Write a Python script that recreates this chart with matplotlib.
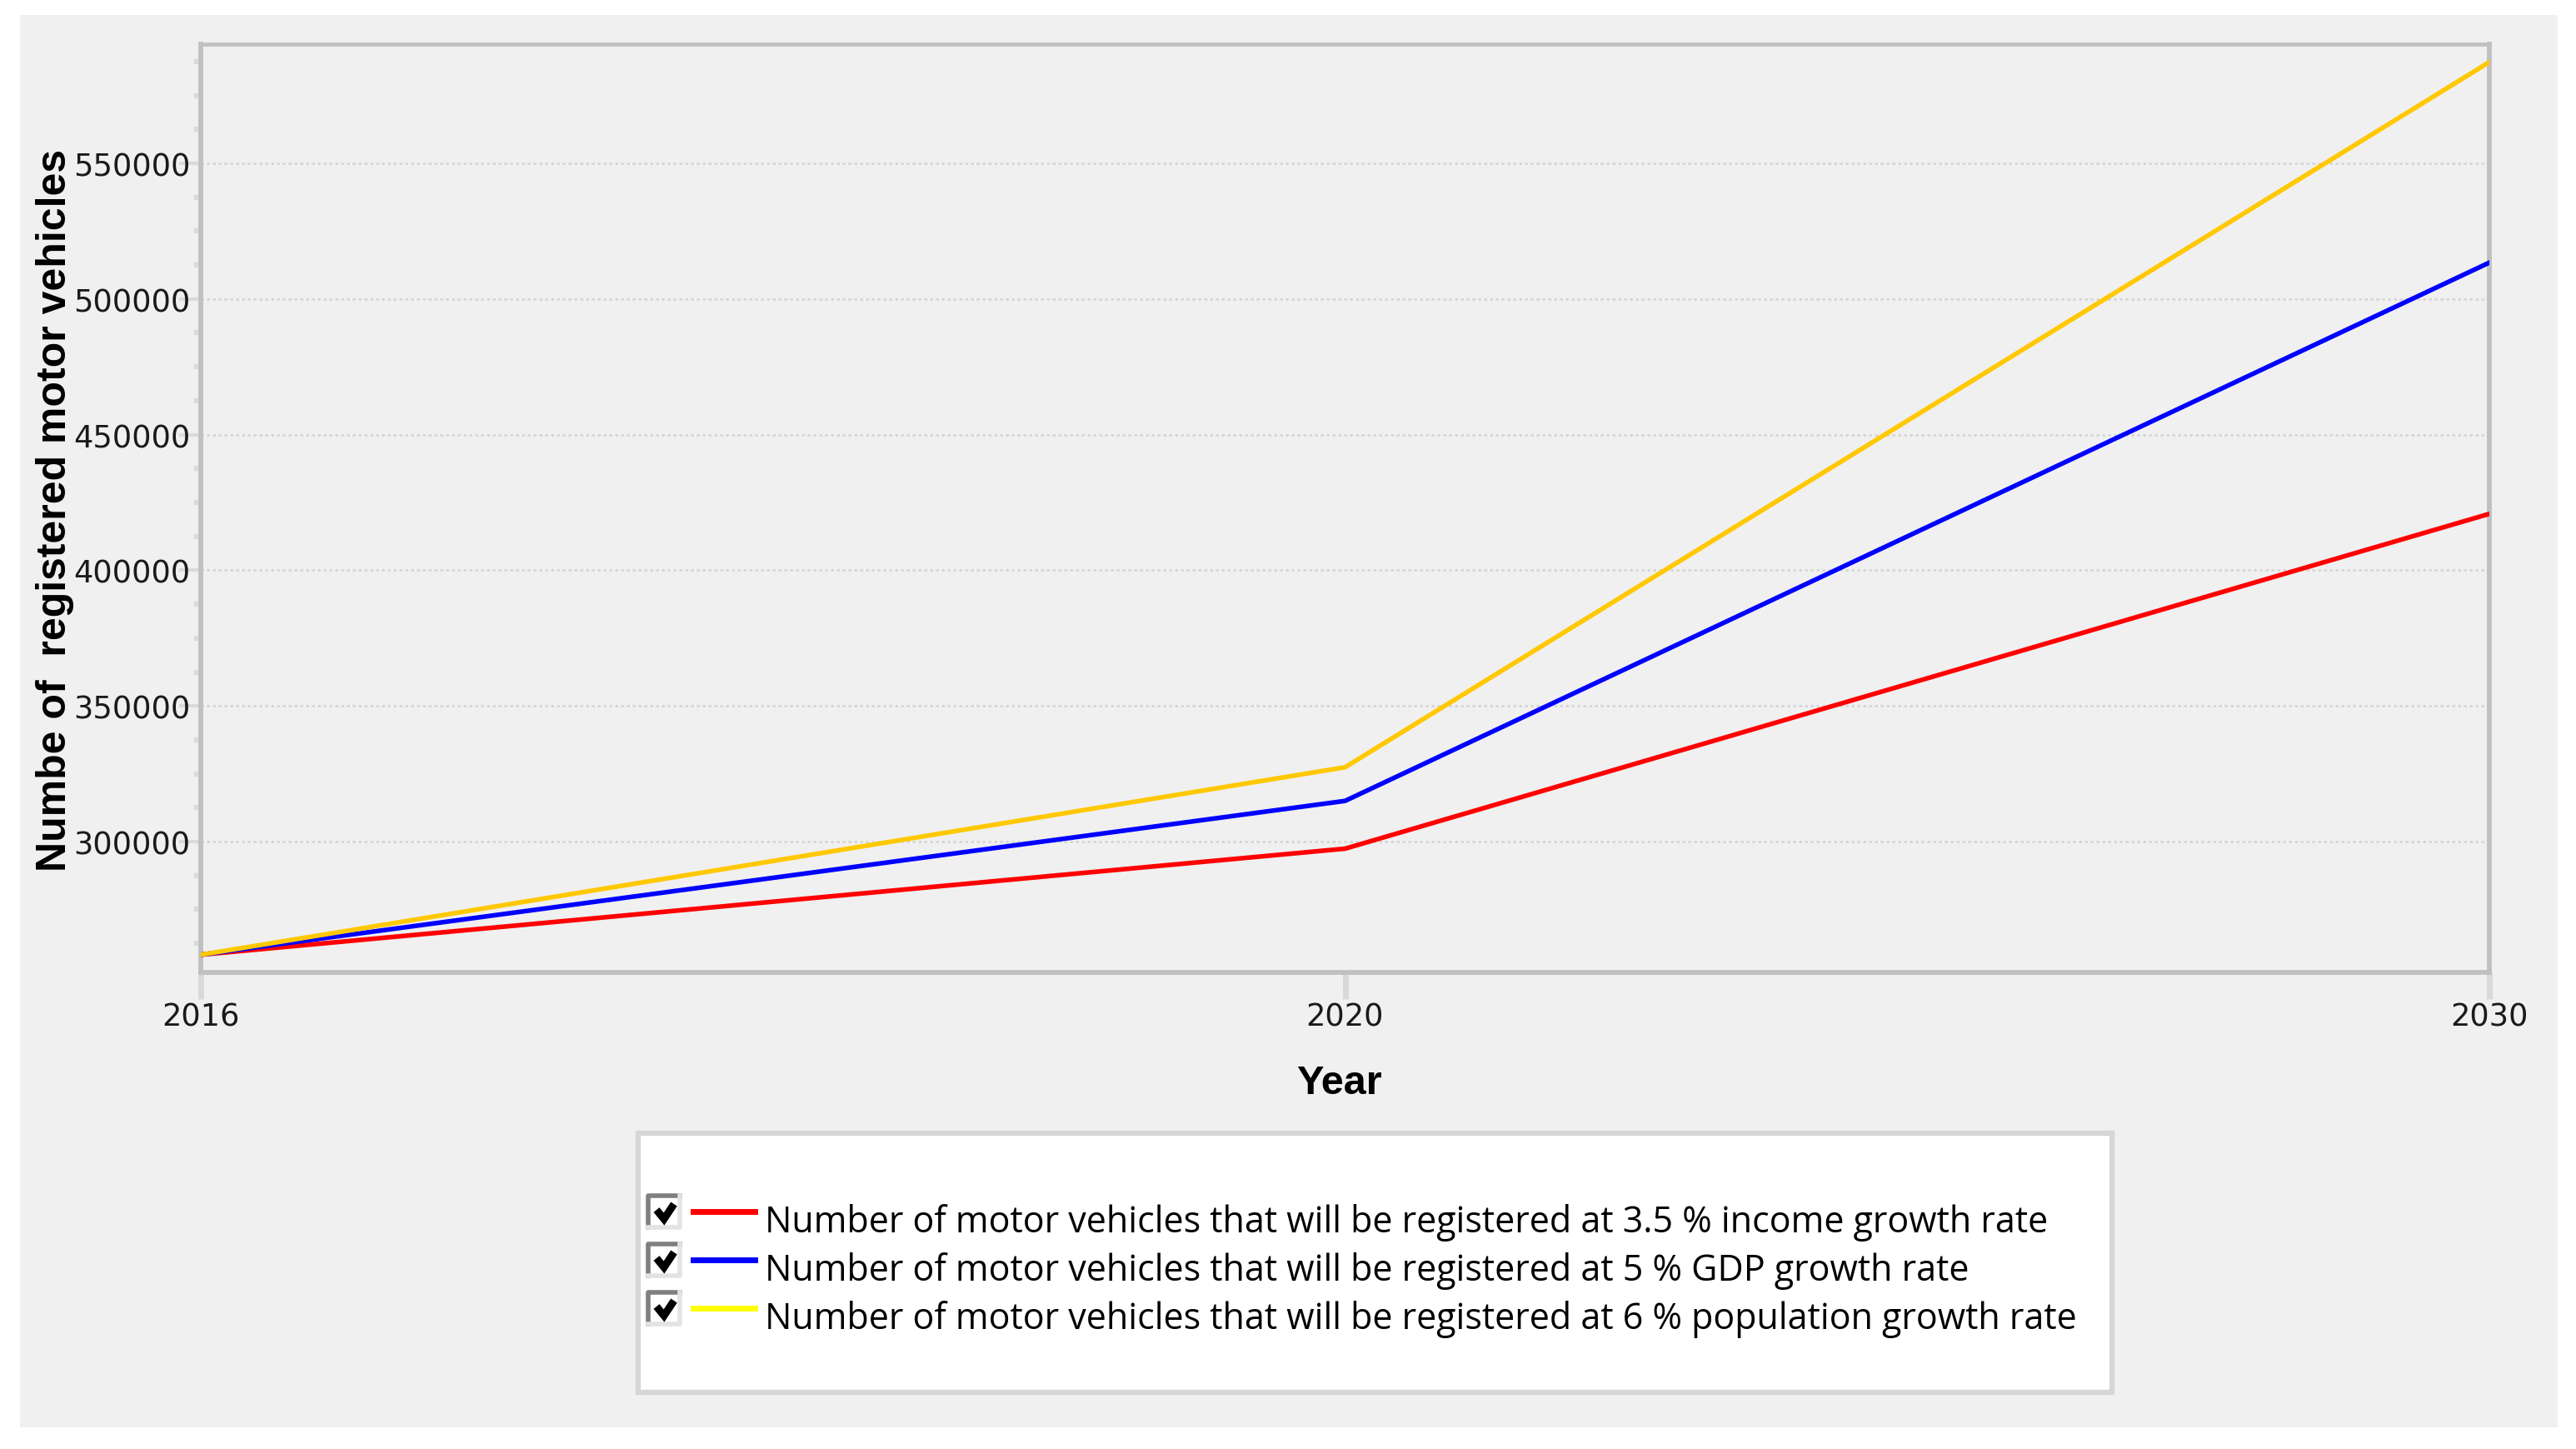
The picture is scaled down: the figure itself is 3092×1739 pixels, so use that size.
import matplotlib
matplotlib.use("Agg")
import matplotlib.pyplot as plt
from matplotlib.patches import Rectangle
from matplotlib.lines import Line2D
from matplotlib.ticker import MultipleLocator

years = ["2016", "2020", "2030"]
income_35 = [258300, 297400, 420800]
gdp_5 = [258300, 315000, 513400]
population_6 = [258300, 327400, 587300]

series_labels = [
    "Number of motor vehicles that will be registered at 3.5 % income growth rate",
    "Number of motor vehicles that will be registered at 5 % GDP growth rate",
    "Number of motor vehicles that will be registered at 6 % population growth rate",
]
line_colors = ["#ff0000", "#0000ff", "#ffc800"]
legend_colors = ["#ff0000", "#0000ff", "#ffff00"]

W, H = 3092, 1740
DPI = 100


def fx(px):
    return px / W


def fy(py):
    return 1 - py / H


fig = plt.figure(figsize=(W / DPI, H / DPI), dpi=DPI, facecolor="white")

# grey panel behind everything
fig.add_artist(Rectangle((fx(24), fy(1714)), fx(3070) - fx(24), fy(19) - fy(1714),
                         transform=fig.transFigure, facecolor="#f0f0f0",
                         edgecolor="none", zorder=0))

ax = fig.add_axes([fx(241), fy(1168), fx(2988) - fx(241), fy(54) - fy(1168)])
ax.set_facecolor("#f0f0f0")

x = list(range(len(years)))
for vals, c in zip([income_35, gdp_5, population_6], line_colors):
    ax.plot(x, vals, color=c, lw=4.0, solid_joinstyle="round", zorder=3)

ax.set_xlim(0, len(years) - 1)
ax.set_ylim(251800, 593900)
ax.set_xticks(x)
ax.set_xticklabels(years)
ax.yaxis.set_major_locator(MultipleLocator(50000))
ax.yaxis.set_minor_locator(MultipleLocator(12500))

ax.grid(axis="y", which="major", color="#d4d4d4", lw=1.8, linestyle=(0, (1.4, 1.4)))
ax.set_axisbelow(True)

for side in ["left", "bottom", "top", "right"]:
    ax.spines[side].set_color("#c0c0c0")
    ax.spines[side].set_linewidth(4.2)
ax.spines["top"].set_linewidth(3.4)

ax.tick_params(axis="x", which="major", length=23, width=5, color="#d9d9d9",
               pad=1.5, labelsize=26.5, labelcolor="#1a1a1a")
ax.tick_params(axis="y", which="major", length=19, width=3, color="#dadada",
               pad=-10, labelsize=26.5, labelcolor="#1a1a1a")
ax.tick_params(axis="y", which="minor", length=6, width=4.5, color="#dadada")
for lab in ax.get_xticklabels() + ax.get_yticklabels():
    lab.set_family("DejaVu Sans")
    lab.set_zorder(5)

fig.text(fx(66), fy(613), "Numbe of  registered motor vehicles", rotation=90,
         ha="center", va="center", fontsize=36, fontweight="bold",
         family="Liberation Sans")
fig.text(fx(1607), fy(1313), "Year", ha="center", va="baseline", fontsize=35,
         fontweight="bold", family="Liberation Sans")

# legend box with check boxes
fig.add_artist(Rectangle((fx(766), fy(1672)), fx(2535) - fx(766), fy(1361) - fy(1672),
                         transform=fig.transFigure, facecolor="white",
                         edgecolor="#d6d6d6", lw=4.5, zorder=2))

row_top = 1436
row_step = 58
for i, (lab, c) in enumerate(zip(series_labels, legend_colors)):
    t = row_top + i * row_step
    fig.add_artist(Rectangle((fx(778), fy(t + 38)), fx(816) - fx(778), fy(t) - fy(t + 38),
                             transform=fig.transFigure, facecolor="white",
                             edgecolor="none", zorder=3))
    fig.add_artist(Line2D([fx(778), fx(778), fx(816)], [fy(t + 38), fy(t), fy(t)],
                          transform=fig.transFigure, color="#7f7f7f", lw=4, zorder=4))
    fig.add_artist(Line2D([fx(778), fx(816), fx(816)], [fy(t + 38), fy(t + 38), fy(t)],
                          transform=fig.transFigure, color="#e3e3e3", lw=4, zorder=4))
    fig.add_artist(Line2D([fx(788), fx(797), fx(809)], [fy(t + 17), fy(t + 28), fy(t + 10)],
                          transform=fig.transFigure, color="black", lw=6.5,
                          solid_joinstyle="miter", solid_capstyle="butt", zorder=5))
    fig.add_artist(Line2D([fx(832), fx(906)], [fy(t + 19), fy(t + 19)],
                          transform=fig.transFigure, color=c, lw=5, zorder=4))
    fig.text(fx(918), fy(t + 43), lab, ha="left", va="baseline", fontsize=31,
             family="Open Sans", color="black", zorder=5)

fig.savefig("out.png", dpi=DPI, facecolor="white")
